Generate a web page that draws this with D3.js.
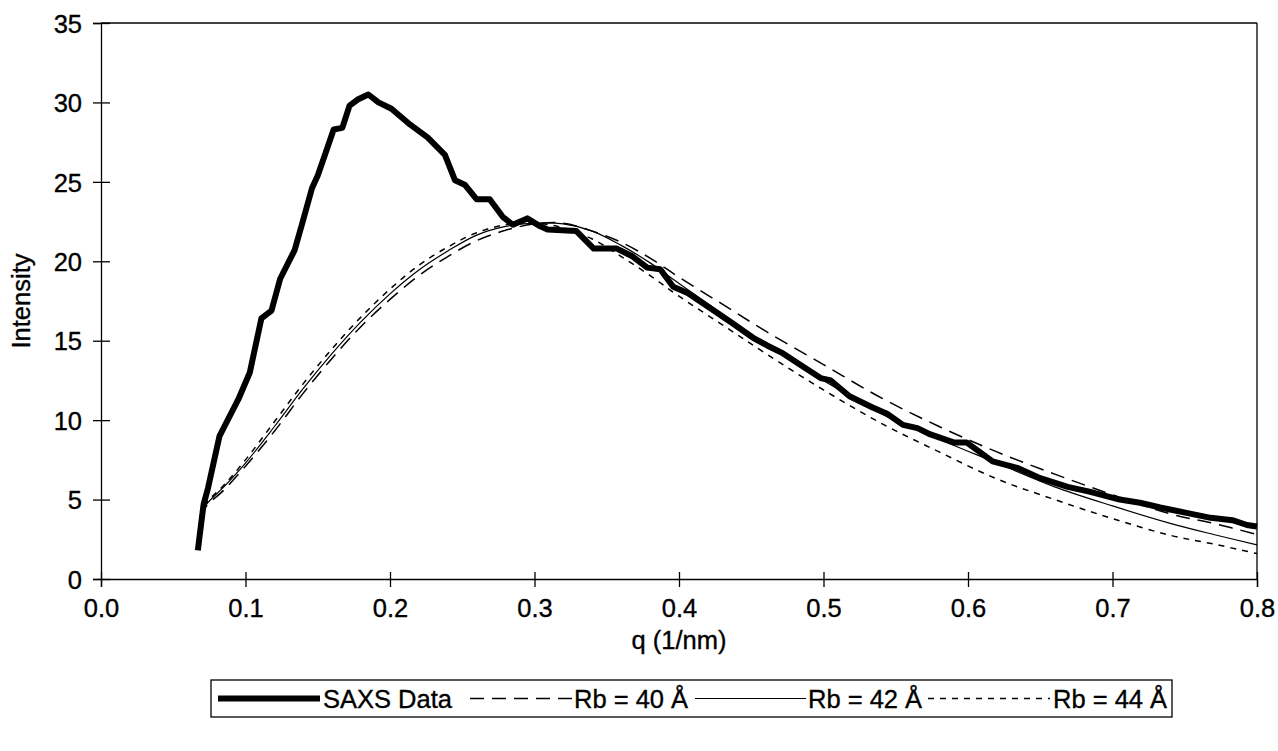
<!DOCTYPE html>
<html><head><meta charset="utf-8">
<script src="https://cdn.jsdelivr.net/npm/d3@7"></script>
<style>
body{margin:0;background:#fff;}
text{font-family:"Liberation Sans",Arial,sans-serif;fill:#000;stroke:#000;stroke-width:0.35px;}
</style></head>
<body><svg id="c" width="1278" height="751"></svg>
<script>
// SAXS measured data
const saxsQ = [0.067,0.071,0.074,0.082,0.095,0.103,0.111,0.118,0.124,0.134,0.139,0.146,0.150,0.155,0.161,0.167,0.172,0.178,0.185,0.192,0.201,0.214,0.226,0.238,0.245,0.252,0.260,0.269,0.278,0.285,0.295,0.304,0.309,0.329,0.341,0.357,0.368,0.378,0.387,0.396,0.406,0.424,0.437,0.451,0.461,0.472,0.482,0.498,0.505,0.518,0.534,0.544,0.555,0.565,0.574,0.590,0.599,0.617,0.634,0.650,0.669,0.684,0.705,0.719,0.733,0.752,0.768,0.783,0.793,0.800];
const saxsI = [1.8,4.7,5.7,9.0,11.3,13.0,16.4,16.9,18.9,20.7,22.3,24.6,25.4,26.7,28.3,28.4,29.8,30.2,30.5,30.0,29.6,28.6,27.8,26.7,25.1,24.8,23.9,23.9,22.8,22.3,22.7,22.2,22.0,21.9,20.8,20.8,20.3,19.6,19.5,18.4,18.0,16.9,16.1,15.2,14.7,14.2,13.6,12.65,12.5,11.5,10.8,10.4,9.7,9.5,9.1,8.6,8.6,7.4,7.0,6.35,5.8,5.5,5.0,4.8,4.5,4.15,3.85,3.7,3.4,3.3];
// model curves
const modelQ = [0.0685,0.073,0.085,0.10,0.12,0.14,0.16,0.18,0.20,0.22,0.24,0.26,0.28,0.30,0.32,0.34,0.36,0.38,0.40,0.43,0.46,0.50,0.54,0.58,0.62,0.66,0.70,0.74,0.77,0.80];
const rb40 = [3.9,4.6,5.6,7.1,9.3,11.7,13.9,15.9,17.6,19.1,20.3,21.3,21.95,22.35,22.4,21.9,21.2,20.2,19.0,17.3,15.6,13.5,11.4,9.6,8.0,6.6,5.3,4.1,3.5,2.8];
const rb42 = [3.9,4.7,5.8,7.3,9.6,12.0,14.2,16.2,17.95,19.45,20.65,21.65,22.2,22.4,22.35,21.9,21.0,19.9,18.6,16.7,14.8,12.5,10.4,8.8,7.3,5.8,4.6,3.5,2.8,2.15];
const rb44 = [3.9,4.8,5.9,7.5,9.9,12.3,14.5,16.5,18.25,19.75,20.9,21.8,22.3,22.4,22.1,21.4,20.3,19.1,17.8,16.0,14.2,11.9,9.8,8.0,6.3,5.0,3.8,2.75,2.2,1.6];
const xTicks = [0,0.1,0.2,0.3,0.4,0.5,0.6,0.7,0.8];
const yTicks = [0,5,10,15,20,25,30,35];
const legendLabels = ["SAXS Data","Rb = 40 Å","Rb = 42 Å","Rb = 44 Å"];

const svg = d3.select("#c");
const L=101,R=1257,T=23,B=579;
const x = d3.scaleLinear().domain([0,0.8]).range([L,R]);
const y = d3.scaleLinear().domain([0,35]).range([B,T]);
const FS = 25.5;

// frame top/right
svg.append("line").attr("x1",L).attr("x2",R).attr("y1",T).attr("y2",T).attr("stroke","#000").attr("stroke-width",1.3);
svg.append("line").attr("x1",R).attr("x2",R).attr("y1",T).attr("y2",B).attr("stroke","#000").attr("stroke-width",1.3);

// y axis
const ya = svg.append("g").attr("transform",`translate(${L},0)`)
  .call(d3.axisLeft(y).tickValues(yTicks).tickSize(8).tickPadding(11).tickFormat(d3.format("d")));
ya.select(".domain").attr("stroke-width",1.3);
ya.selectAll(".tick line").attr("x2",-8).attr("x1",9).attr("stroke-width",1.3);
ya.selectAll(".tick text").style("font-size",FS+"px").attr("dy","0.36em");

// x axis
const xa = svg.append("g").attr("transform",`translate(0,${B})`)
  .call(d3.axisBottom(x).tickValues(xTicks).tickSize(8).tickPadding(25).tickFormat(d3.format(".1f")));
xa.select(".domain").attr("stroke-width",1.3);
xa.selectAll(".tick line").attr("y1",-7).attr("y2",8).attr("stroke-width",1.3);
xa.selectAll(".tick text").style("font-size",FS+"px").attr("dy","0.2em");

// axis titles
svg.append("text").attr("x",(L+R)/2).attr("y",649).attr("text-anchor","middle").style("font-size",FS+"px").text("q (1/nm)");
svg.append("text").attr("transform",`translate(30,${(T+B)/2}) rotate(-90)`).attr("text-anchor","middle").style("font-size",FS+"px").text("Intensity");

const line = d3.line().x(d=>x(d[0])).y(d=>y(d[1]));
const smooth = d3.line().x(d=>x(d[0])).y(d=>y(d[1])).curve(d3.curveCatmullRom.alpha(0.5));

const series = [
  {v:rb40, dash:"14,8", w:1.5},
  {v:rb42, dash:null, w:1.2},
  {v:rb44, dash:"6,6", w:1.5}
];
series.forEach(s=>{
  svg.append("path").datum(modelQ.map((q,i)=>[q,s.v[i]])).attr("d",smooth)
    .attr("fill","none").attr("stroke","#000").attr("stroke-width",s.w)
    .attr("stroke-dasharray",s.dash);
});
svg.append("path").datum(saxsQ.map((q,i)=>[q,saxsI[i]])).attr("d",line)
  .attr("fill","none").attr("stroke","#000").attr("stroke-width",6)
  .attr("stroke-linejoin","round").attr("stroke-linecap","butt");

// legend
const lg = svg.append("g");
const LY0=680, LH=37, ly=LY0+LH/2;
lg.append("rect").attr("x",211).attr("y",LY0).attr("width",961).attr("height",LH)
  .attr("fill","#fff").attr("stroke","#000").attr("stroke-width",1.3);
const items = [
  {x1:218,x2:320,tx:323,w:6,dash:null},
  {x1:470,x2:572,tx:574,w:1.5,dash:"14,8"},
  {x1:695,x2:806,tx:808,w:1.2,dash:null},
  {x1:928,x2:1050,tx:1053,w:1.5,dash:"6,6"}
];
items.forEach((it,i)=>{
  lg.append("line").attr("x1",it.x1).attr("x2",it.x2).attr("y1",ly).attr("y2",ly)
    .attr("stroke","#000").attr("stroke-width",it.w).attr("stroke-dasharray",it.dash);
  lg.append("text").attr("x",it.tx).attr("y",ly).attr("dy","0.36em").style("font-size",FS+"px").text(legendLabels[i]);
});
</script></body></html>
